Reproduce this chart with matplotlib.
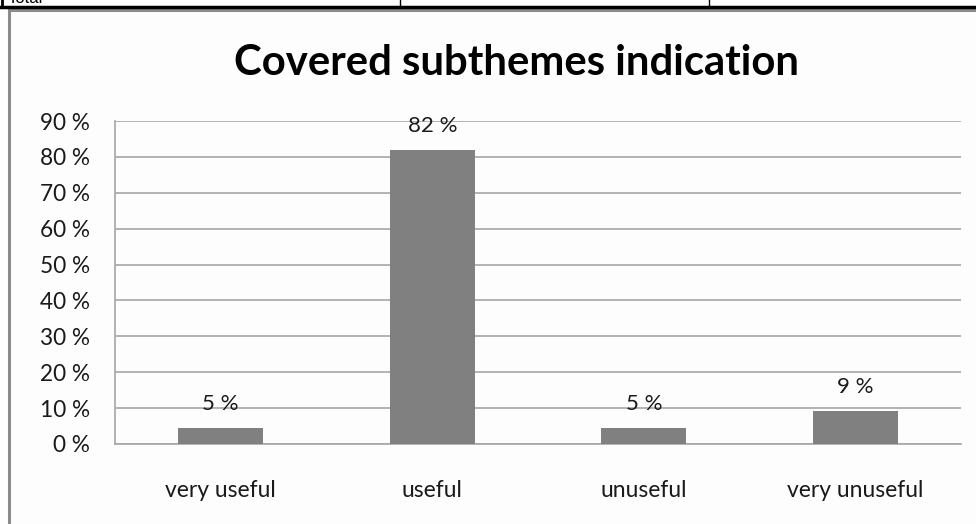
import matplotlib
matplotlib.use("Agg")
import matplotlib.pyplot as plt
from matplotlib.lines import Line2D
from matplotlib.patches import Rectangle

categories = ["very useful", "useful", "unuseful", "very unuseful"]
shares = [4.55, 81.82, 4.55, 9.09]          # percent of respondents
yticks = [0, 10, 20, 30, 40, 50, 60, 70, 80, 90]
title = "Covered subthemes indication"

W, H = 976, 524
fig = plt.figure(figsize=(W / 100, H / 100), dpi=100)
fig.patch.set_facecolor("white")

def fx(px):
    return px / W

def fy(py):
    return 1 - py / H

# chart frame (extends past the right and bottom edges)
fig.patches.append(Rectangle((fx(9), fy(H + 20)), fx(1100), fy(9.5) - fy(H + 20),
                             transform=fig.transFigure, facecolor="#fdfdfd",
                             edgecolor="#8c8c8c", linewidth=2.2, zorder=-5))

# remnants of the table row above the chart
fig.add_artist(Line2D([fx(1), fx(W)], [fy(6.5), fy(6.5)], transform=fig.transFigure,
                      color="black", linewidth=2.5))
for xp in (2, 400, 709):
    fig.add_artist(Line2D([fx(xp), fx(xp)], [fy(-2), fy(6.5)], transform=fig.transFigure,
                          color="black", linewidth=2.0 if xp == 2 else 1.0))
fig.text(fx(8), fy(3), "Total", fontsize=12, fontfamily="Liberation Sans",
         va="baseline", ha="left", color="black")

ax = fig.add_axes([fx(115), fy(444), fx(961) - fx(115), fy(121) - fy(444)], zorder=2)
ax.set_facecolor("none")

x = list(range(len(categories)))
bars = ax.bar(x, shares, width=0.4, color="#808080", zorder=3)

for xi, v in zip(x, shares):
    ax.annotate(f"{v:.0f} %", (xi, v), xytext=(0, 10), textcoords="offset points",
                ha="center", va="bottom", fontsize=16, fontfamily="Lato",
                color="#1a1a1a")

ax.set_xlim(-0.5, len(categories) - 0.5)
ax.set_ylim(0, 90)
ax.set_yticks(yticks)
ax.set_yticklabels([f"{t} %" for t in yticks], fontsize=16.3, fontfamily="Lato",
                   color="#1a1a1a")
ax.set_xticks(x)
ax.set_xticklabels(categories, fontsize=16.5, fontfamily="Lato", color="#1a1a1a")
ax.tick_params(axis="y", length=0, pad=18)
ax.tick_params(axis="x", length=0, pad=26)

ax.yaxis.grid(True, color="#a6a6a6", linewidth=1.2, zorder=1)
ax.set_axisbelow(True)
for side in ("top", "right"):
    ax.spines[side].set_visible(False)
for side in ("left", "bottom"):
    ax.spines[side].set_color("#a6a6a6")
    ax.spines[side].set_linewidth(1.2)

fig.text(fx(517), fy(63), title, fontsize=30.2, fontweight="bold", fontfamily="Lato",
         ha="center", va="center", color="black")

fig.savefig("out.png", dpi=100)
